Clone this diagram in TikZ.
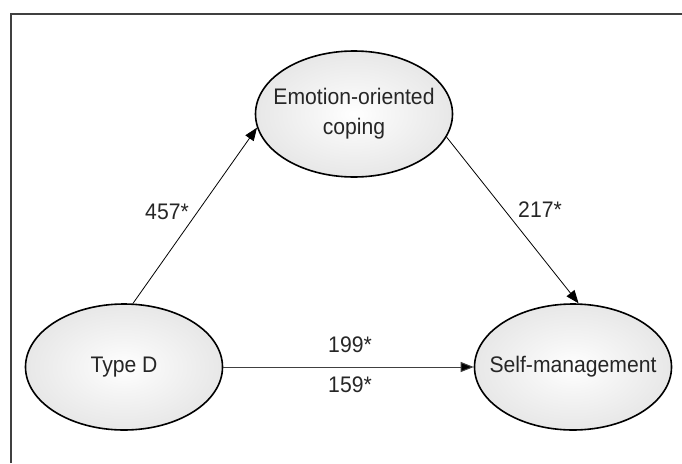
\documentclass[tikz,border=0pt]{standalone}
\usepackage{fontspec}
\setmainfont[FakeStretch=0.94]{Liberation Sans}
\usetikzlibrary{shapes.geometric,arrows.meta}
\pgfdeclareradialshading{ellshade}{\pgfpoint{0bp}{0bp}}{color(0bp)=(white); color(10bp)=(white!96!black); color(50bp)=(gray!36); color(70bp)=(gray!36)}
\tikzset{
  ell/.style={ellipse, draw=black, line width=1.6pt, shading=ellshade,
    minimum width=197pt, minimum height=126pt, inner sep=0pt},
  lbl/.style={font=\fontsize{22.5}{30}\selectfont, text=black!85, align=center},
  conn/.style={line width=0.8pt, -{Triangle[length=13pt,width=10pt]}},
  frame/.style={draw=black!75, line width=1.5pt}
}
\begin{document}
\begin{tikzpicture}[x=1pt,y=-1pt]
\useasboundingbox (0,0) rectangle (682,463);
\draw[frame] (11,463) -- (11,14) -- (682,14);
\node[ell, label={[lbl]center:Emotion-oriented\\coping}] (emo) at (354,114) {};
\node[ell, label={[lbl]center:Type D}] (td) at (124,367) {};
\node[ell, label={[lbl]center:Self-management}] (sm) at (573,367) {};
\draw[conn] (td.82) -- (emo.188.7);
\draw[conn] (emo.-14.5) -- (sm.85.5);
\draw[conn, draw=black!75, line width=1pt, -{Triangle[length=13pt,width=10pt,fill=black]}] (td.east) -- (sm.west);
\node[lbl] (l1) at (167,212) {457*};
\node[lbl] (l2) at (540,210) {217*};
\node[lbl] (l3) at (350,345) {199*};
\node[lbl] (l4) at (350,385) {159*};
\end{tikzpicture}
\end{document}
